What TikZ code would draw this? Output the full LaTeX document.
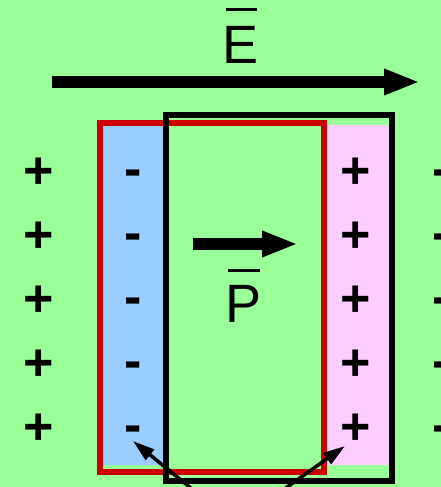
\documentclass[tikz,border=0pt]{standalone}
\usepackage{fontspec}
\setmainfont{Liberation Sans}
\usetikzlibrary{arrows.meta}
\definecolor{bggreen}{RGB}{153,255,153}
\definecolor{negblue}{RGB}{153,204,255}
\definecolor{pospink}{RGB}{255,204,255}
\definecolor{boxred}{RGB}{204,0,0}

\begin{document}
\begin{tikzpicture}[x=1pt,y=-1pt,
  charge/.style={inner sep=0pt,font=\fontsize{52}{52}\selectfont\bfseries},
  letter/.style={inner sep=0pt,font=\fontsize{54}{54}\selectfont},
  bigarrow/.style={line width=12.5pt,-{Triangle[length=36pt,width=24pt]}},
  pointer/.style={line width=3.5pt,-{Triangle[length=22pt,width=13pt]}},
  vecbar/.style={line width=3pt}]
  \useasboundingbox (0,0) rectangle (441,487);
  \clip (0,0) rectangle (441,487);
  \fill[bggreen] (0,0) rectangle (441,487);

  % surface charge layers
  \fill[negblue] (103,125) rectangle (165,465);
  \fill[pospink] (324,125) rectangle (392,465);
  \draw[boxred,line width=6pt] (100,123) rectangle (324,472);
  \draw[line width=6pt] (166,115) rectangle (392,481);

  % field
  \coordinate (Etail) at (52,82);
  \coordinate (Ehead) at (420,82);
  \draw[bigarrow] (Etail) -- (Ehead);
  \node[letter] (Elbl) at (240.5,45) {E};
  \draw[vecbar] ([shift={(-14.5,-35)}]Elbl.center) -- ([shift={(16.5,-35)}]Elbl.center);

  % polarisation
  \coordinate (Ptail) at (193,244);
  \coordinate (Phead) at (298,244);
  \draw[bigarrow] (Ptail) -- (Phead);
  \node[letter] (Plbl) at (244,304) {P};
  \draw[vecbar] ([shift={(-16,-34)}]Plbl.center) -- ([shift={(16,-34)}]Plbl.center);

  \foreach \y [count=\i] in {172,236,300,364,428} {
    \node[charge] (pl\i) at (39,\y+1) {+};
    \node[charge] (ml\i) at (133,\y+6) {-};
    \node[charge] (pr\i) at (356,\y+1) {+};
    \node[charge] (mr\i) at (441,\y+6) {-};
  }

  \coordinate (src) at (235,524);
  \draw[pointer] (src) -- ([shift={(0,7)}]ml5.center);
  \draw[pointer] (src) -- ([shift={(-11,17)}]pr5.center);
\end{tikzpicture}
\end{document}
